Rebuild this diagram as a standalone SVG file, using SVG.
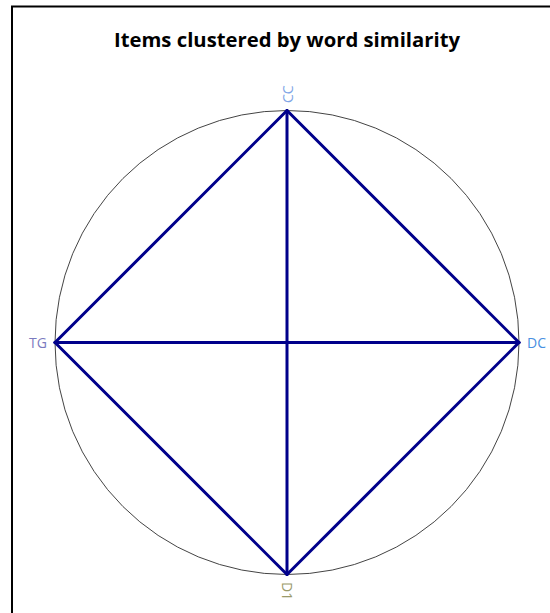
<svg xmlns="http://www.w3.org/2000/svg" width="550" height="613" viewBox="0 0 550 613">
<style>
.lbl{font-family:"Open Sans","Liberation Sans",sans-serif;font-size:14px;dominant-baseline:central}
.edge{stroke:#00008b;stroke-width:3;fill:none;stroke-linecap:round}
</style>
<rect x="0" y="0" width="550" height="613" fill="#ffffff"/>
<rect x="12" y="6.5" width="600" height="700" fill="none" stroke="#000" stroke-width="2"/>
<text x="287" y="40" text-anchor="middle" font-family="'Open Sans','Liberation Sans',sans-serif" font-weight="bold" font-size="19" textLength="346" lengthAdjust="spacingAndGlyphs" dominant-baseline="central">Items clustered by word similarity</text>
<circle cx="287" cy="342.5" r="232" fill="none" stroke="#444" stroke-width="1"/>
<g id="connectors">
<line class="edge" x1="287" y1="110.5" x2="55" y2="342.5"/>
<line class="edge" x1="287" y1="110.5" x2="519" y2="342.5"/>
<line class="edge" x1="287" y1="110.5" x2="287" y2="574.5"/>
<line class="edge" x1="55" y1="342.5" x2="519" y2="342.5"/>
<line class="edge" x1="55" y1="342.5" x2="287" y2="574.5"/>
<line class="edge" x1="519" y1="342.5" x2="287" y2="574.5"/>
</g>
<g id="node-CC"><text class="lbl" fill="#7fa6e6" transform="translate(287,103) rotate(-90)">CC</text></g>
<g id="node-TG"><text class="lbl" fill="#7b7bbf" text-anchor="end" x="47" y="342.5">TG</text></g>
<g id="node-DC"><text class="lbl" fill="#4a90e2" x="527" y="342.5">DC</text></g>
<g id="node-D1"><text class="lbl" fill="#9a9a6a" transform="translate(287,582) rotate(90)">D1</text></g>
</svg>
